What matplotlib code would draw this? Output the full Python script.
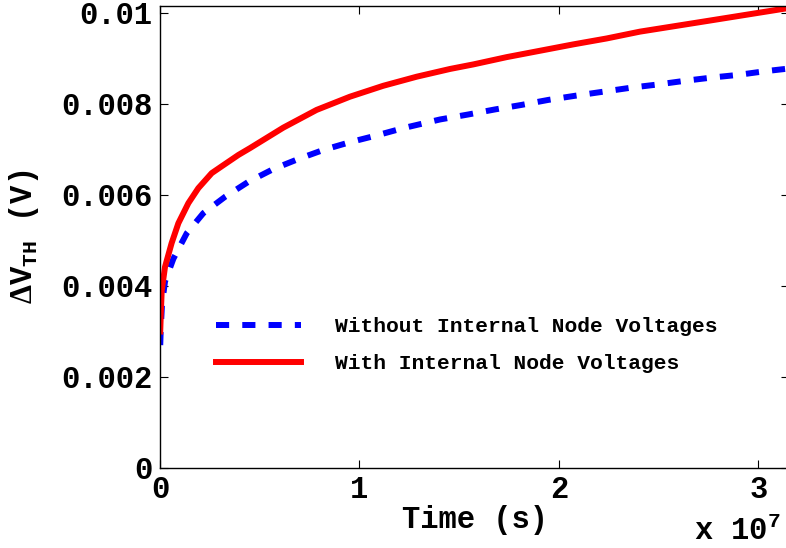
import matplotlib
matplotlib.use("Agg")
import matplotlib.pyplot as plt
from matplotlib.ticker import FixedLocator, FuncFormatter

plt.rcParams['font.family'] = ['Liberation Mono', 'DejaVu Sans']
plt.rcParams['font.weight'] = 'bold'
plt.rcParams['mathtext.fontset'] = 'custom'
plt.rcParams['mathtext.rm'] = 'Liberation Serif'
plt.rcParams['mathtext.bf'] = 'Liberation Mono:bold'

# time in units of 1e7 s, threshold voltage shift in V
t_with = [0.001, 0.004, 0.0085, 0.025, 0.058, 0.092, 0.142, 0.192, 0.259,
          0.309, 0.393, 0.451, 0.618, 0.785, 0.952, 1.119, 1.287, 1.454,
          1.571, 1.738, 1.905, 2.072, 2.239, 2.406, 2.723, 3.138, 3.1536]
dv_with = [0.0030, 0.0034, 0.0039, 0.00442, 0.00494, 0.00538, 0.00582,
           0.00615, 0.00648, 0.00663, 0.00688, 0.00703, 0.00748, 0.00787,
           0.00816, 0.0084, 0.0086, 0.00877, 0.00887, 0.00903, 0.00917,
           0.00931, 0.00944, 0.00959, 0.00981, 0.0101, 0.01011]

t_without = [0.001, 0.004, 0.01, 0.025, 0.067, 0.134, 0.217, 0.326, 0.443,
             0.568, 0.693, 0.819, 0.952, 1.078, 1.22, 1.404, 1.546, 1.679,
             1.813, 1.947, 2.08, 2.222, 2.364, 2.498, 2.632, 2.765, 2.899,
             3.033, 3.1536]
dv_without = [0.0027, 0.0031, 0.0036, 0.0041, 0.0046, 0.00516, 0.0056,
              0.00596, 0.00629, 0.00657, 0.00679, 0.00699, 0.00716, 0.0073,
              0.00747, 0.00766, 0.00777, 0.00788, 0.00798, 0.00809, 0.00818,
              0.00827, 0.00836, 0.00843, 0.00851, 0.00858, 0.00864, 0.00872,
              0.00878]

x_ticks = [0, 1e7, 2e7, 3e7]
y_ticks = [0, 0.002, 0.004, 0.006, 0.008, 0.01]

ps = 22
fig = plt.figure(figsize=(7.86, 5.48), dpi=100)
ax = fig.add_axes([0.2036, 0.1460, 0.8003, 0.8431])

ax.plot([t * 1e7 for t in t_without], dv_without, c='b', lw=4.3,
        ls=(0, (2.2, 2.2)), label='Without Internal Node Voltages')
ax.plot([t * 1e7 for t in t_with], dv_with, c='r', lw=4.3, ls='-',
        label='With Internal Node Voltages')

ax.set_xlim(0, 3.1536e7)
ax.set_ylim(0, 0.010154)
ax.xaxis.set_major_locator(FixedLocator(x_ticks))
ax.xaxis.set_major_formatter(FuncFormatter(lambda v, p: '%g' % (v / 1e7)))
ax.yaxis.set_major_locator(FixedLocator(y_ticks))
ax.yaxis.set_major_formatter(FuncFormatter(lambda v, p: '%g' % v))
ax.tick_params(direction='in', length=6, width=0.8, top=True, right=True,
               labelsize=ps)
ax.tick_params(axis='y', pad=5.5)
ax.tick_params(axis='x', pad=5)
for s in ax.spines.values():
    s.set_linewidth(1.0)

ax.set_xlabel('Time (s)', size=ps, fontweight='bold')
ax.xaxis.set_label_coords(0.5, -0.08)
ax.set_ylabel(r'$\Delta$V$_{\mathbf{TH}}$ (V)', size=ps, fontweight='bold')
ax.yaxis.set_label_coords(-0.19, 0.5)

fig.text(694 / 786, 8 / 548, r'x 10$^{\mathbf{7}}$', size=ps,
         fontweight='bold', ha='left', va='baseline')

ax.legend(loc='center left', bbox_to_anchor=(0.089, 0.266), frameon=False,
          prop={'size': 15.3, 'weight': 'bold'}, handlelength=4.0,
          handletextpad=1.6, labelspacing=0.85, borderpad=0, borderaxespad=0)

fig.savefig('out.png', dpi=100)
